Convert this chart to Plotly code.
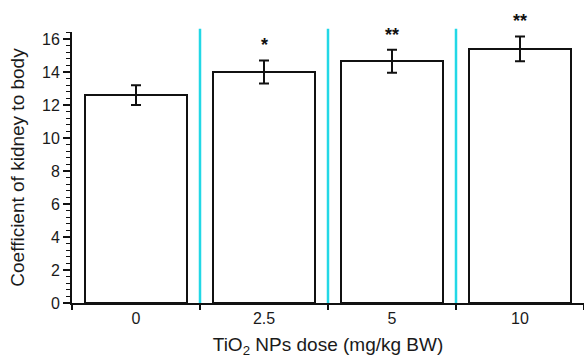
import plotly.graph_objects as go

doses = ["0", "2.5", "5", "10"]
coef = [12.6, 14.0, 14.65, 15.4]
err = [0.6, 0.7, 0.7, 0.75]
marks = ["", "*", "**", "**"]
ytick_vals = [0, 2, 4, 6, 8, 10, 12, 14, 16]

xpos = list(range(len(doses)))
font = "Liberation Sans, Arial, sans-serif"

fig = go.Figure()
fig.add_trace(go.Bar(
    x=xpos, y=coef, width=0.79,
    marker=dict(color="white", line=dict(color="#111", width=2)),
    error_y=dict(type="data", array=err, color="#111", thickness=2, width=5),
    showlegend=False, hoverinfo="skip",
))

for i, (v, e, m) in enumerate(zip(coef, err, marks)):
    if m:
        fig.add_annotation(x=i, y=v + e, text="<b>" + m + "</b>", showarrow=False,
                           yanchor="bottom", yshift=3, font=dict(size=18, color="#111", family=font))

for b in [0.5, 1.5, 2.5]:
    fig.add_shape(type="line", xref="x", yref="paper", x0=b, x1=b, y0=0, y1=1.012,
                  line=dict(color="#22d8e6", width=2.5))

fig.update_layout(
    width=584, height=358,
    margin=dict(l=72, r=0, t=32, b=55),
    plot_bgcolor="white", paper_bgcolor="white",
    font=dict(family=font, color="#1a1a1a", size=16),
    bargap=0,
)
fig.update_xaxes(
    range=[-0.5, 3.5], tickvals=xpos, ticktext=doses, ticks="", showgrid=False,
    showline=True, linecolor="#111", linewidth=2, zeroline=False, automargin=False,
    tickfont=dict(size=16),
    minor=dict(tick0=0.5, dtick=1, ticks="outside", ticklen=5, tickcolor="#111", tickwidth=1.5, showgrid=False),
    title=dict(text="TiO<sub>2</sub> NPs dose (mg/kg BW)", font=dict(size=19), standoff=13),
)
fig.update_yaxes(
    range=[0, 16.42], tickvals=ytick_vals, ticks="outside", ticklen=7, tickwidth=1.5, tickcolor="#111",
    showgrid=False, showline=True, linecolor="#111", linewidth=2, zeroline=False, automargin=False,
    tickfont=dict(size=16),
    minor=dict(tick0=0, dtick=0.4, ticks="outside", ticklen=4, tickcolor="#111", tickwidth=1, showgrid=False),
    title=dict(text="Coefficient of kidney to body", font=dict(size=19), standoff=12),
)

fig.write_html("out.html", config={"displayModeBar": False},
               post_script="document.body.style.margin='0';document.body.style.padding='0';")
